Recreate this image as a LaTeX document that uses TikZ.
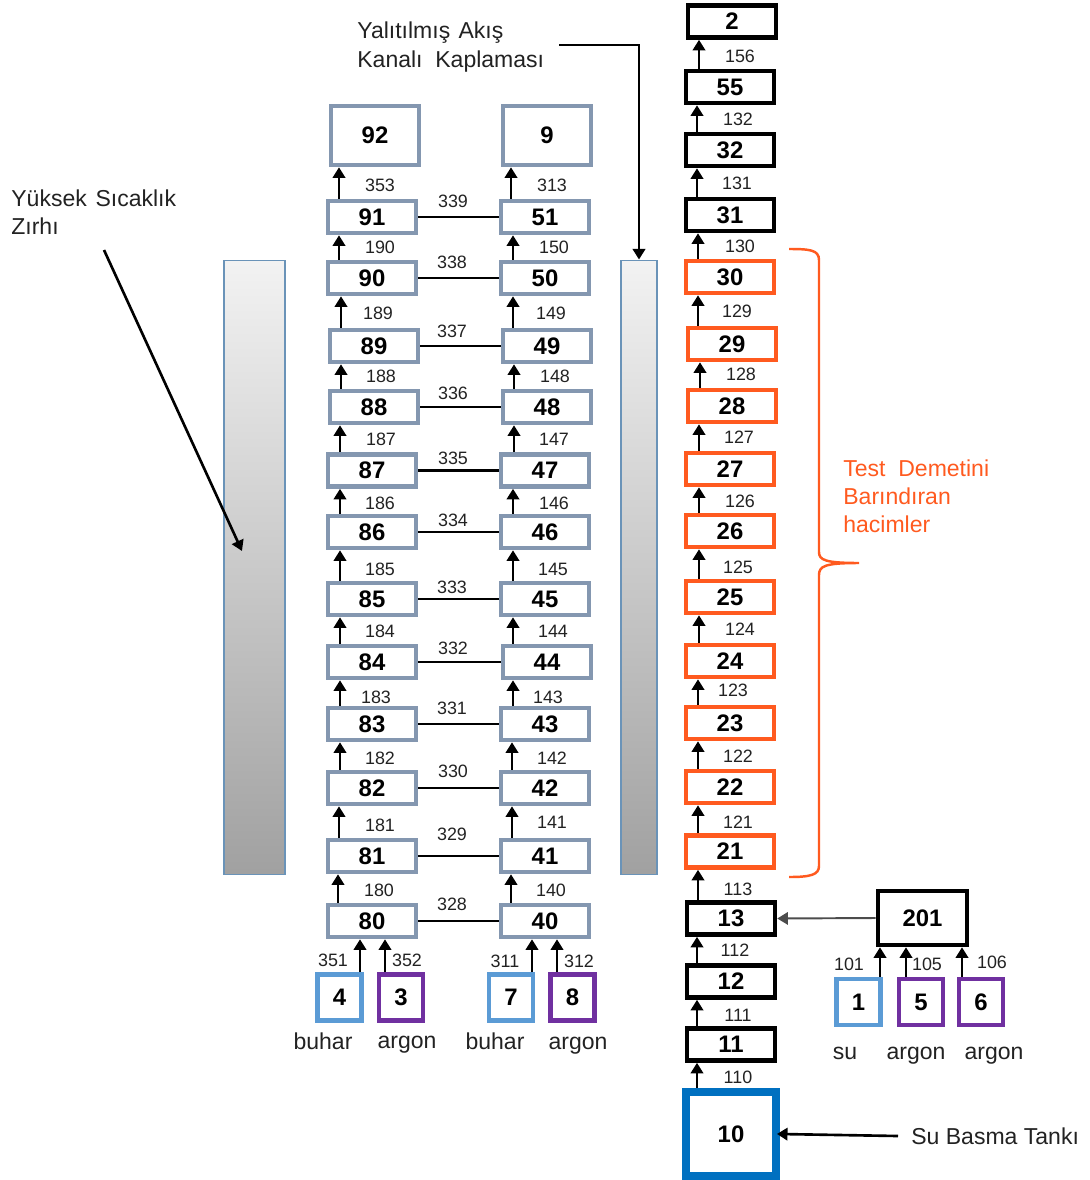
\documentclass[tikz,border=0pt]{standalone}
\usepackage{fontspec}
\setmainfont{Liberation Sans}
\usetikzlibrary{arrows.meta}
\definecolor{steel_blue}{HTML}{8497B0}
\definecolor{sky_blue}{HTML}{5B9BD5}
\definecolor{argon_purple}{HTML}{7030A0}
\definecolor{test_orange}{HTML}{FF5A1F}
\definecolor{tank_blue}{HTML}{0070C0}
\definecolor{shield_edge}{HTML}{6A93B8}
\definecolor{label_dark}{HTML}{222222}
\tikzset{
    vessel/.style={draw,line width=2.6pt,fill=white,inner sep=0pt,
        minimum width=1.76cm,minimum height=0.64cm,
        font=\fontsize{13.6}{16}\selectfont\bfseries},
    steel/.style={vessel,draw=steel_blue},
    plenum/.style={steel,minimum height=1.18cm},
    testvol/.style={vessel,draw=test_orange},
    feed/.style={vessel,minimum width=0.88cm,minimum height=0.92cm},
    flownum/.style={inner sep=0pt,text=label_dark,font=\fontsize{10.2}{12}\selectfont},
    caption/.style={inner sep=0pt,text=label_dark,align=left,
        font=\fontsize{13.1}{16}\selectfont},
    fluid/.style={caption,text height=11.6pt,text depth=2.8pt},
    flow/.style={line width=1.5pt,-{Triangle[length=6pt,width=7pt]}},
    link/.style={line width=1.3pt},
    shield/.style={draw=shield_edge,line width=0.6pt,inner sep=0pt,
        top color=black!5,bottom color=black!37,minimum height=12.3cm}
}

\begin{document}
\begin{tikzpicture}[x=0.02cm,y=-0.02cm]

    \useasboundingbox (0,0) rectangle (1089,1180);

    % shields
    \node[shield,minimum width=1.22cm] (shieldL) at (254.5,567.5) {};
    \node[shield,minimum width=0.72cm] (shieldR) at (639,567.5) {};

    % left channel
    \node[plenum] (n92) at (375,135.5) {92};
    \node[steel] (n91) at (372,217) {91};
    \node[steel] (n90) at (372,278) {90};
    \node[steel] (n89) at (374,346) {89};
    \node[steel] (n88) at (374,407) {88};
    \node[steel] (n87) at (372,470.5) {87};
    \node[steel] (n86) at (372,532) {86};
    \node[steel] (n85) at (372,599) {85};
    \node[steel] (n84) at (372,662) {84};
    \node[steel] (n83) at (372,724) {83};
    \node[steel] (n82) at (372,788) {82};
    \node[steel] (n81) at (372,856) {81};
    \node[steel] (n80) at (372,921) {80};

    % right channel
    \node[plenum] (n9) at (547,135.5) {9};
    \node[steel] (n51) at (545,217) {51};
    \node[steel] (n50) at (545,278) {50};
    \node[steel] (n49) at (547,346) {49};
    \node[steel] (n48) at (547,407) {48};
    \node[steel] (n47) at (545,470.5) {47};
    \node[steel] (n46) at (545,532) {46};
    \node[steel] (n45) at (545,599) {45};
    \node[steel] (n44) at (547,662) {44};
    \node[steel] (n43) at (545,724) {43};
    \node[steel] (n42) at (545,788) {42};
    \node[steel] (n41) at (545,856) {41};
    \node[steel] (n40) at (545,921) {40};

    % heated column
    \node[vessel] (n2) at (732,21.5) {2};
    \node[vessel] (n55) at (730,87) {55};
    \node[vessel] (n32) at (730,150) {32};
    \node[vessel] (n31) at (730,215) {31};
    \node[testvol] (n30) at (730,277) {30};
    \node[testvol] (n29) at (732,344) {29};
    \node[testvol] (n28) at (732,406) {28};
    \node[testvol] (n27) at (730,469) {27};
    \node[testvol] (n26) at (730,531) {26};
    \node[testvol] (n25) at (730,597) {25};
    \node[testvol] (n24) at (730,661) {24};
    \node[testvol] (n23) at (730,723) {23};
    \node[testvol] (n22) at (730,787) {22};
    \node[testvol] (n21) at (730,851.5) {21};
    \node[vessel] (n13) at (731,918.5) {13};
    \node[vessel] (n12) at (731,981.5) {12};
    \node[vessel] (n11) at (731,1044.5) {11};
    \node[vessel,draw=tank_blue,line width=4.5pt,minimum width=1.8cm,minimum height=1.68cm]
        (n10) at (731,1134) {10};

    % mixer and feeds
    \node[vessel,minimum width=1.78cm,minimum height=1.08cm] (n201) at (922.5,918) {201};
    \node[feed,draw=sky_blue] (n1) at (858.5,1002) {1};
    \node[feed,draw=argon_purple] (n5) at (921,1002) {5};
    \node[feed,draw=argon_purple] (n6) at (981,1002) {6};
    \node[feed,draw=sky_blue] (n4) at (339.5,997.5) {4};
    \node[feed,draw=argon_purple] (n3) at (401,997.5) {3};
    \node[feed,draw=sky_blue] (n7) at (511,997.5) {7};
    \node[feed,draw=argon_purple] (n8) at (572.5,997.5) {8};

    % left channel arrows
    \draw[flow] (n91.north -| 339,0) -- (n92.south -| 339,0);
    \draw[flow] (n90.north -| 339,0) -- (n91.south -| 339,0);
    \draw[flow] (n89.north -| 341,0) -- (n90.south -| 341,0);
    \draw[flow] (n88.north -| 341,0) -- (n89.south -| 341,0);
    \draw[flow] (n87.north -| 340,0) -- (n88.south -| 340,0);
    \draw[flow] (n86.north -| 340,0) -- (n87.south -| 340,0);
    \draw[flow] (n85.north -| 340,0) -- (n86.south -| 340,0);
    \draw[flow] (n84.north -| 340,0) -- (n85.south -| 340,0);
    \draw[flow] (n83.north -| 340,0) -- (n84.south -| 340,0);
    \draw[flow] (n82.north -| 340,0) -- (n83.south -| 340,0);
    \draw[flow] (n81.north -| 339,0) -- (n82.south -| 339,0);
    \draw[flow] (n80.north -| 338,0) -- (n81.south -| 338,0);
    \draw[flow] (n4.north -| 360,0) -- (n80.south -| 360,0);
    \draw[flow] (n3.north -| 385,0) -- (n80.south -| 385,0);

    % right channel arrows
    \draw[flow] (n51.north -| 511,0) -- (n9.south -| 511,0);
    \draw[flow] (n50.north -| 513,0) -- (n51.south -| 513,0);
    \draw[flow] (n49.north -| 513,0) -- (n50.south -| 513,0);
    \draw[flow] (n48.north -| 514,0) -- (n49.south -| 514,0);
    \draw[flow] (n47.north -| 514,0) -- (n48.south -| 514,0);
    \draw[flow] (n46.north -| 513,0) -- (n47.south -| 513,0);
    \draw[flow] (n45.north -| 513,0) -- (n46.south -| 513,0);
    \draw[flow] (n44.north -| 513,0) -- (n45.south -| 513,0);
    \draw[flow] (n43.north -| 513,0) -- (n44.south -| 513,0);
    \draw[flow] (n42.north -| 512,0) -- (n43.south -| 512,0);
    \draw[flow] (n41.north -| 512,0) -- (n42.south -| 512,0);
    \draw[flow] (n40.north -| 511,0) -- (n41.south -| 511,0);
    \draw[flow] (n7.north -| 532,0) -- (n40.south -| 532,0);
    \draw[flow] (n8.north -| 557,0) -- (n40.south -| 557,0);

    % heated column arrows
    \draw[flow] (n55.north -| 699,0) -- (n2.south -| 699,0);
    \draw[flow] (n32.north -| 697,0) -- (n55.south -| 697,0);
    \draw[flow] (n31.north -| 697,0) -- (n32.south -| 697,0);
    \draw[flow] (n30.north -| 698,0) -- (n31.south -| 698,0);
    \draw[flow] (n29.north -| 698,0) -- (n30.south -| 698,0);
    \draw[flow] (n28.north -| 700,0) -- (n29.south -| 700,0);
    \draw[flow] (n27.north -| 699,0) -- (n28.south -| 699,0);
    \draw[flow] (n26.north -| 699,0) -- (n27.south -| 699,0);
    \draw[flow] (n25.north -| 699,0) -- (n26.south -| 699,0);
    \draw[flow] (n24.north -| 699,0) -- (n25.south -| 699,0);
    \draw[flow] (n23.north -| 698,0) -- (n24.south -| 698,0);
    \draw[flow] (n22.north -| 698,0) -- (n23.south -| 698,0);
    \draw[flow] (n21.north -| 698,0) -- (n22.south -| 698,0);
    \draw[flow] (n13.north -| 698,0) -- (n21.south -| 698,0);
    \draw[flow] (n12.north -| 697,0) -- (n13.south -| 697,0);
    \draw[flow] (n11.north -| 697,0) -- (n12.south -| 697,0);
    \draw[flow] (n10.north -| 697,0) -- (n11.south -| 697,0);
    \draw[flow] (n1.north -| 880,0) -- (n201.south -| 880,0);
    \draw[flow] (n5.north -| 906,0) -- (n201.south -| 906,0);
    \draw[flow] (n6.north -| 962,0) -- (n201.south -| 962,0);
    \draw[flow,black!70,line width=1.1pt] (n201.west) -- (n13.east);

    % cross links
    \draw[link] (n91.east) -- (n51.west);
    \draw[link] (n90.east) -- (n50.west);
    \draw[link] (n89.east) -- (n49.west);
    \draw[link] (n88.east) -- (n48.west);
    \draw[link] (n87.east) -- (n47.west);
    \draw[link] (n86.east) -- (n46.west);
    \draw[link] (n85.east) -- (n45.west);
    \draw[link] (n84.east) -- (n44.west);
    \draw[link] (n83.east) -- (n43.west);
    \draw[link] (n82.east) -- (n42.west);
    \draw[link] (n81.east) -- (n41.west);
    \draw[link] (n80.east) -- (n40.west);

    % left channel numbers
    \node[flownum] (f353) at (380,185) {353};
    \node[flownum] (f190) at (380,247) {190};
    \node[flownum] (f189) at (378,313) {189};
    \node[flownum] (f188) at (381,376) {188};
    \node[flownum] (f187) at (381,439) {187};
    \node[flownum] (f186) at (380,503) {186};
    \node[flownum] (f185) at (380,569) {185};
    \node[flownum] (f184) at (380,631) {184};
    \node[flownum] (f183) at (376,697) {183};
    \node[flownum] (f182) at (380,758) {182};
    \node[flownum] (f181) at (380,825) {181};
    \node[flownum] (f180) at (379,890) {180};
    \node[flownum] (f351) at (333,960) {351};
    \node[flownum] (f352) at (407,960) {352};

    % right channel numbers
    \node[flownum] (f313) at (552,185) {313};
    \node[flownum] (f150) at (554,247) {150};
    \node[flownum] (f149) at (551,313) {149};
    \node[flownum] (f148) at (555,376) {148};
    \node[flownum] (f147) at (554,439) {147};
    \node[flownum] (f146) at (554,503) {146};
    \node[flownum] (f145) at (553,569) {145};
    \node[flownum] (f144) at (553,631) {144};
    \node[flownum] (f143) at (548,697) {143};
    \node[flownum] (f142) at (552,758) {142};
    \node[flownum] (f141) at (552,822) {141};
    \node[flownum] (f140) at (551,890) {140};
    \node[flownum] (f311) at (505,961) {311};
    \node[flownum] (f312) at (579,961) {312};

    % cross link numbers
    \node[flownum] (f339) at (453,201) {339};
    \node[flownum] (f338) at (452,262) {338};
    \node[flownum] (f337) at (452,331) {337};
    \node[flownum] (f336) at (453,393) {336};
    \node[flownum] (f335) at (453,458) {335};
    \node[flownum] (f334) at (453,520) {334};
    \node[flownum] (f333) at (452,587) {333};
    \node[flownum] (f332) at (453,648) {332};
    \node[flownum] (f331) at (452,708) {331};
    \node[flownum] (f330) at (453,771) {330};
    \node[flownum] (f329) at (452,834) {329};
    \node[flownum] (f328) at (452,904) {328};

    % heated column numbers
    \node[flownum] (f156) at (740,56) {156};
    \node[flownum] (f132) at (738,119) {132};
    \node[flownum] (f131) at (737,183) {131};
    \node[flownum] (f130) at (740,246) {130};
    \node[flownum] (f129) at (737,311) {129};
    \node[flownum] (f128) at (741,374) {128};
    \node[flownum] (f127) at (739,437) {127};
    \node[flownum] (f126) at (740,501) {126};
    \node[flownum] (f125) at (738,567) {125};
    \node[flownum] (f124) at (740,629) {124};
    \node[flownum] (f123) at (733,690) {123};
    \node[flownum] (f122) at (738,756) {122};
    \node[flownum] (f121) at (738,822) {121};
    \node[flownum] (f113) at (738,889) {113};
    \node[flownum] (f112) at (735,950) {112};
    \node[flownum] (f111) at (738,1015) {111};
    \node[flownum] (f110) at (738,1077) {110};
    \node[flownum] (f101) at (849,964) {101};
    \node[flownum] (f105) at (927,964) {105};
    \node[flownum] (f106) at (992,962) {106};

    % fluid names
    \node[fluid] (buharL) at (323,1042) {buhar};
    \node[fluid] (argonL) at (407,1041) {argon};
    \node[fluid] (buharR) at (495,1042) {buhar};
    \node[fluid] (argonR) at (578,1042) {argon};
    \node[fluid] (waterA) at (845,1052) {su};
    \node[fluid] (argonA) at (916,1052) {argon};
    \node[fluid] (argonB) at (994,1052) {argon};

    % callouts
    \node[caption,anchor=west] (armour) at (11,212) {Yüksek\hspace{0.38em}Sıcaklık\\Zırhı};
    \coordinate (armourtip) at (242,551);
    \coordinate (armourtail) at (104,250);
    \draw[flow] (armourtail) -- (armourtip);

    \node[caption,anchor=west] (liner) at (357,47)
        {Yalıtılmış\hspace{0.36em}Akış\\Kanalı\ \ Kaplaması};
    \coordinate (linertail) at (559,45);
    \draw[flow] (linertail) -| (shieldR.north);

    \node[caption,anchor=west] (tank) at (911,1136) {Su Basma Tankı};
    \coordinate (tanktail) at (898,1136);
    \draw[flow,shorten >=-1.7pt] (tanktail) -- (n10.east);

    \node[caption,anchor=west,text=test_orange] (bundle) at (843,496)
        {Test\ \ Demetini\\Barındıran\\hacimler};
    \draw[test_orange,line width=1.4pt] (789,249) .. controls (810,249) and (819,250) .. (819,260)
        -- (819,552) .. controls (819,560) and (825,563) .. (859,563)
        .. controls (825,563) and (819,566) .. (819,575)
        -- (819,866) .. controls (819,875) and (810,877) .. (789,877);

\end{tikzpicture}
\end{document}
